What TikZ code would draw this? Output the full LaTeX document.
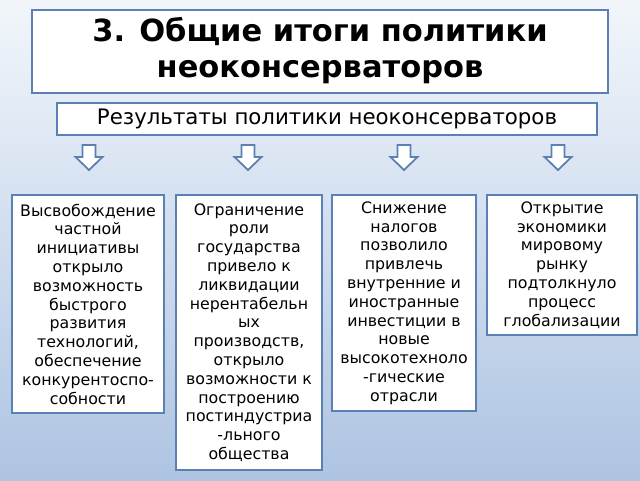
\documentclass[tikz,border=0pt]{standalone}
\usepackage{fontspec}
\setmainfont{DejaVu Sans}
\usepackage{xcolor}
\usepackage{tikz}
\usetikzlibrary{positioning}
\definecolor{frameblue}{HTML}{5A80B4}
\definecolor{bgtop}{HTML}{F2F6FB}
\definecolor{bgbottom}{HTML}{AEC4E2}

\begin{document}
\begin{tikzpicture}[x=1pt,y=-1pt,
  frame/.style={draw=frameblue,line width=2pt,fill=white,inner sep=0pt,align=center},
  result/.style={frame,anchor=north,font=\fontsize{15.8}{18.8}\selectfont}]
\shade[top color=bgtop,bottom color=bgbottom] (0,0) rectangle (640,480);
\useasboundingbox (0,0) rectangle (640,480);
\node[frame,minimum width=576pt,minimum height=83pt,
  font=\fontsize{30.5}{36}\selectfont\bfseries] (title) at (320,51)
  {3. Общие итоги политики\\неоконсерваторов};
\node[frame,minimum width=540pt,minimum height=32pt,
  font=\fontsize{21.3}{24}\selectfont] (sub) at (327,119)
  {Результаты политики неоконсерваторов};
\node[result,minimum width=152pt,minimum height=218pt] (res1) at (88,194)
  {Высвобождение\\частной\\инициативы\\открыло\\возможность\\быстрого\\развития\\технологий,\\обеспечение\\конкурентоспо-\\собности};
\node[result,minimum width=146pt,minimum height=275pt] (res2) at (249,194)
  {Ограничение\\роли\\государства\\привело к\\ликвидации\\нерентабельн\\ых\\производств,\\открыло\\возможности к\\построению\\постиндустриа\\-льного\\общества};
\node[result,minimum width=144pt,minimum height=216pt] (res3) at (404,194)
  {Снижение\\налогов\\позволило\\привлечь\\внутренние и\\иностранные\\инвестиции в\\новые\\высокотехноло\\-гические\\отрасли};
\node[result,minimum width=150pt,minimum height=140pt] (res4) at (562,194)
  {Открытие\\экономики\\мировому\\рынку\\подтолкнуло\\процесс\\глобализации};
% block arrows
\foreach \x in {89,248,404,558}
  \draw[frameblue,line width=1.8pt,fill=white,line join=miter]
    (\x-6.5,145) -- (\x+6.5,145) -- (\x+6.5,157) -- (\x+13.5,157)
    -- (\x,170) -- (\x-13.5,157) -- (\x-6.5,157) -- cycle;
\end{tikzpicture}
\end{document}
